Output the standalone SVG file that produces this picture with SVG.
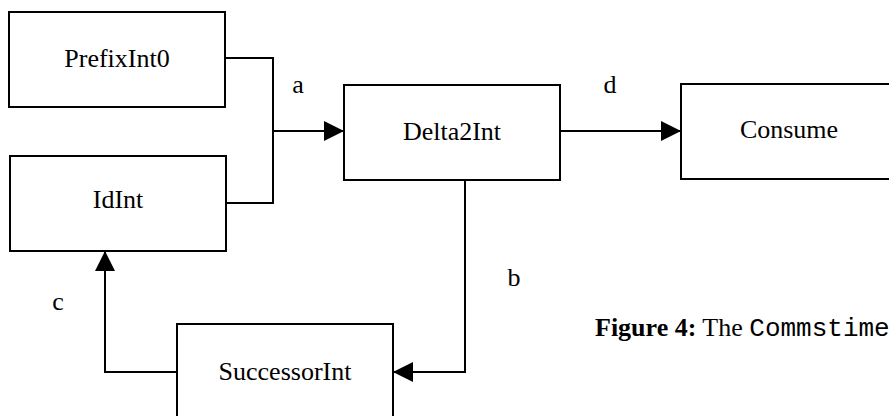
<svg xmlns="http://www.w3.org/2000/svg" width="889" height="416" viewBox="0 0 889 416">
<defs>
<style>
.box{fill:#fff;stroke:#000;stroke-width:2}
.lbl{font-family:"Liberation Serif","Times New Roman",serif;font-size:26px;fill:#000;text-anchor:middle}
.edge{font-family:"Liberation Serif","Times New Roman",serif;font-size:26px;fill:#000}
.wire{fill:none;stroke:#000;stroke-width:2}
.cap{font-family:"Liberation Serif","Times New Roman",serif;font-size:26px;fill:#000}
</style>
<marker id="ah" markerWidth="20" markerHeight="20" refX="20" refY="10" orient="auto" markerUnits="userSpaceOnUse" viewBox="0 0 20 20">
<path d="M0,0 L20,10 L0,20 Z" fill="#000"/>
</marker>
</defs>
<rect width="889" height="416" fill="#fff"/>
<g id="connectors">
<path class="wire" d="M225,58 H273 V203 H225"/>
<path class="wire" d="M273,131 H344" marker-end="url(#ah)"/>
<path class="wire" d="M560,131 H681" marker-end="url(#ah)"/>
<path class="wire" d="M465,180 V372 H393" marker-end="url(#ah)"/>
<path class="wire" d="M177,372 H105 V251" marker-end="url(#ah)"/>
<text class="edge" x="298" y="93" text-anchor="middle">a</text>
<text class="edge" x="610" y="93" text-anchor="middle">d</text>
<text class="edge" x="514" y="286" text-anchor="middle">b</text>
<text class="edge" x="58" y="310" text-anchor="middle">c</text>
</g>
<g id="PrefixInt0">
<rect class="box" x="9" y="12" width="216" height="95"/>
<text class="lbl" x="117" y="67">PrefixInt0</text>
</g>
<g id="IdInt">
<rect class="box" x="10" y="156" width="216" height="95"/>
<text class="lbl" x="118" y="208">IdInt</text>
</g>
<g id="Delta2Int">
<rect class="box" x="344" y="85" width="216" height="95"/>
<text class="lbl" x="452" y="140">Delta2Int</text>
</g>
<g id="Consume">
<rect class="box" x="681" y="84" width="216" height="95"/>
<text class="lbl" x="789" y="138">Consume</text>
</g>
<g id="SuccessorInt">
<rect class="box" x="177" y="324" width="216" height="100"/>
<text class="lbl" x="285" y="380">SuccessorInt</text>
</g>
<text class="cap" x="595" y="336"><tspan font-weight="bold">Figure 4:</tspan> The <tspan font-family="'Liberation Mono','Courier New',monospace">Commstime</tspan></text>
</svg>
